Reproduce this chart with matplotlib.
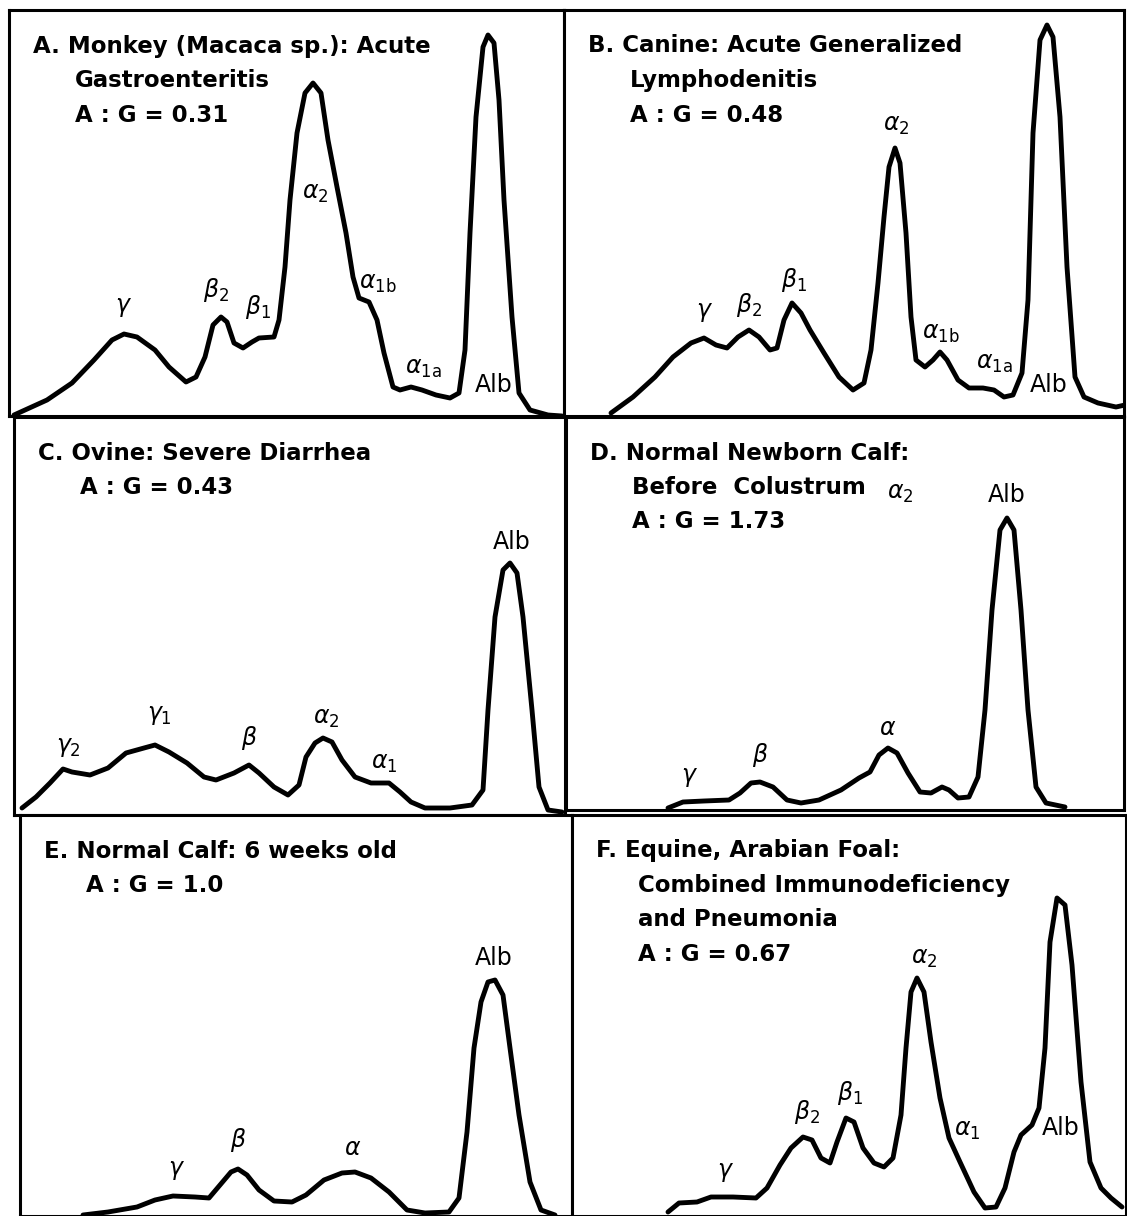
import matplotlib
matplotlib.use("Agg")
import matplotlib.pyplot as plt

# densitometer traces: x = migration (px from panel left), y = height above baseline
a_x = [5, 38, 63, 85, 103, 115, 128, 146, 160, 177, 187, 196, 204, 212, 218, 225, 234, 243, 250, 265,
       270, 276, 281, 288, 296, 304, 312, 319, 328, 337, 344, 350, 360, 368, 375, 384, 391, 402, 413,
       427, 441, 450, 456, 461, 467, 474, 479, 485, 490, 495, 503, 510, 521, 539, 553]
a_y = [1, 16, 33, 56, 76, 82, 79, 66, 49, 34, 39, 59, 91, 99, 94, 73, 68, 74, 78, 79,
       96, 149, 216, 283, 323, 333, 323, 276, 229, 183, 139, 118, 114, 96, 63, 29, 26, 29, 26,
       21, 18, 23, 66, 183, 299, 369, 381, 373, 316, 216, 99, 23, 6, 1, 0]

b_x = [47, 69, 91, 109, 127, 140, 152, 163, 174, 185, 195, 206, 213, 220, 228, 237, 246, 260, 275,
       289, 300, 307, 314, 320, 325, 331, 336, 342, 347, 352, 361, 369, 376, 383, 394, 405, 419, 430,
       440, 449, 458, 464, 469, 476, 483, 489, 496, 503, 511, 520, 534, 552, 561]
b_y = [3, 19, 39, 59, 73, 78, 71, 68, 79, 86, 79, 66, 68, 96, 113, 103, 86, 63, 39,
       26, 33, 66, 133, 199, 249, 268, 253, 183, 99, 56, 49, 56, 64, 56, 36, 28, 28, 26,
       19, 21, 43, 116, 283, 376, 391, 379, 299, 149, 39, 19, 13, 9, 11]

c_x = [8, 22, 36, 49, 58, 76, 94, 112, 130, 141, 155, 173, 190, 202, 220, 235, 245, 260, 274, 285,
       292, 301, 309, 318, 328, 341, 357, 375, 386, 397, 411, 436, 458, 469, 474, 481, 489, 496, 503,
       509, 518, 525, 534, 548]
c_y = [7, 18, 32, 46, 43, 40, 47, 62, 67, 70, 63, 52, 38, 35, 42, 50, 42, 28, 20, 30,
       58, 72, 77, 73, 55, 38, 32, 32, 23, 13, 7, 7, 10, 25, 105, 198, 245, 252, 242,
       198, 105, 28, 5, 3]

d_x = [102, 117, 138, 163, 174, 185, 194, 207, 221, 235, 253, 275, 293, 304, 313, 322, 331, 342, 354,
       365, 376, 383, 392, 403, 412, 419, 426, 434, 441, 448, 455, 462, 470, 480, 499]
d_y = [2, 8, 9, 10, 17, 27, 28, 23, 10, 7, 10, 20, 32, 38, 55, 62, 57, 37, 18,
       17, 23, 20, 12, 13, 33, 100, 200, 280, 292, 280, 200, 100, 23, 7, 3]

e_x = [63, 88, 117, 135, 153, 175, 189, 200, 211, 218, 227, 239, 254, 272, 286, 304, 322, 335, 351,
       369, 387, 405, 429, 439, 447, 454, 461, 468, 475, 483, 490, 499, 510, 521, 535]
e_y = [1, 4, 9, 16, 20, 19, 18, 31, 44, 47, 41, 26, 15, 14, 21, 36, 43, 44, 38,
       24, 6, 3, 4, 18, 84, 168, 214, 234, 236, 221, 168, 101, 34, 6, 1]

f_x = [96, 107, 125, 139, 161, 184, 195, 208, 219, 231, 240, 249, 258, 265, 274, 282, 291, 302, 312,
       321, 329, 334, 339, 345, 352, 359, 368, 377, 388, 402, 413, 424, 433, 442, 449, 460, 467, 473,
       478, 485, 493, 500, 509, 518, 529, 539, 550]
f_y = [4, 13, 14, 19, 19, 18, 28, 51, 68, 79, 76, 58, 53, 74, 98, 94, 68, 53, 49,
       58, 101, 168, 224, 238, 224, 174, 118, 78, 54, 24, 8, 9, 28, 64, 81, 91, 108, 168,
       274, 318, 311, 251, 134, 54, 28, 18, 9]

# title lines, first one flush, the rest indented
a_title = ["A. Monkey (Macaca sp.): Acute", "Gastroenteritis", "A : G = 0.31"]
b_title = ["B. Canine: Acute Generalized", "Lymphodenitis", "A : G = 0.48"]
c_title = ["C. Ovine: Severe Diarrhea", "A : G = 0.43"]
d_title = ["D. Normal Newborn Calf:", "Before  Colustrum", "A : G = 1.73"]
e_title = ["E. Normal Calf: 6 weeks old", "A : G = 1.0"]
f_title = ["F. Equine, Arabian Foal:", "Combined Immunodeficiency", "and Pneumonia", "A : G = 0.67"]

# fraction labels and where they sit (same units as the traces)
a_labels = [(r"$\gamma$", 115, 109), (r"$\beta_2$", 207, 126), (r"$\beta_1$", 249, 109),
            (r"$\alpha_2$", 306, 223), (r"$\alpha_{\mathrm{1b}}$", 369, 133),
            (r"$\alpha_{\mathrm{1a}}$", 414, 48), ("Alb", 485, 31)]
b_labels = [(r"$\gamma$", 141, 104), (r"$\beta_2$", 185, 111), (r"$\beta_1$", 230, 136),
            (r"$\alpha_2$", 332, 291), (r"$\alpha_{\mathrm{1b}}$", 377, 83),
            (r"$\alpha_{\mathrm{1a}}$", 430, 53), ("Alb", 485, 31)]
c_labels = [(r"$\gamma_2$", 54, 68), (r"$\gamma_1$", 145, 100), (r"$\beta$", 235, 77),
            (r"$\alpha_2$", 312, 97), (r"$\alpha_1$", 370, 52), ("Alb", 498, 273)]
d_labels = [(r"$\gamma$", 124, 33), (r"$\beta$", 194, 55), (r"$\alpha$", 322, 82),
            ("Alb", 441, 315), (r"$\alpha_2$", 334, 317)]
e_labels = [(r"$\gamma$", 157, 46), (r"$\beta$", 218, 76), (r"$\alpha$", 333, 68),
            ("Alb", 474, 258)]
f_labels = [(r"$\gamma$", 154, 44), (r"$\beta_2$", 235, 104), (r"$\beta_1$", 278, 123),
            (r"$\alpha_2$", 352, 258), (r"$\alpha_1$", 395, 86), ("Alb", 489, 88)]

# panel boxes in image pixels: left, top, right, bottom
boxes = [(9, 10, 564, 416), (564, 10, 1124, 416),
         (14, 417, 565, 815), (566, 417, 1124, 810),
         (20, 815, 572, 1216), (572, 815, 1126, 1216)]

W, H = 1127, 1216
plt.rcParams['font.family'] = ['DejaVu Sans']
plt.rcParams['mathtext.fontset'] = 'dejavusans'

fig = plt.figure(figsize=(W / 100, H / 100), dpi=100)

panels = [(a_x, a_y, a_title, a_labels), (b_x, b_y, b_title, b_labels),
          (c_x, c_y, c_title, c_labels), (d_x, d_y, d_title, d_labels),
          (e_x, e_y, e_title, e_labels), (f_x, f_y, f_title, f_labels)]

for (xs, ys, title, labels), (l, t, r, b) in zip(panels, boxes):
    ax = fig.add_axes([l / W, 1 - b / H, (r - l) / W, (b - t) / H])
    ax.set_xlim(0, r - l)
    ax.set_ylim(0, b - t)
    ax.plot(xs, ys, color="black", lw=3.5, solid_joinstyle="round", solid_capstyle="round")
    for s in ax.spines.values():
        s.set_linewidth(2.2)
    ax.set_xticks([])
    ax.set_yticks([])

    top = b - t
    for i, line in enumerate(title):
        ax.text(24 if i == 0 else 66, top - 36 - i * 34.5, line, fontsize=16.5,
                fontweight="bold", ha="left", va="center", color="black")

    for txt, lx, ly in labels:
        ax.text(lx, ly, txt, fontsize=17, ha="center", va="center", color="black")

fig.savefig("out.png", dpi=100)
